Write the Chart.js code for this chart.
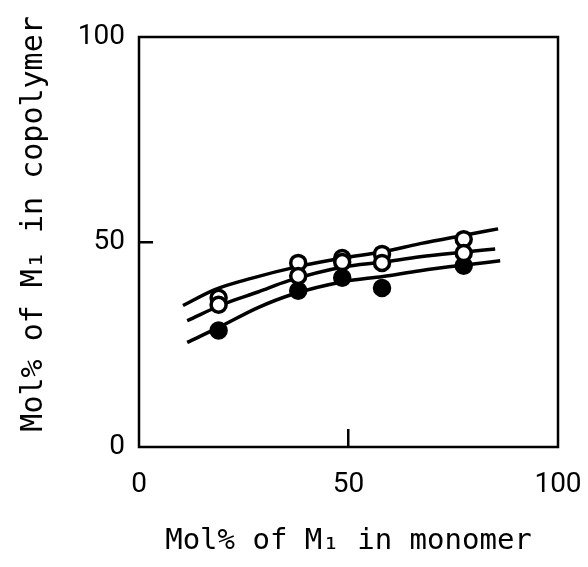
<!DOCTYPE html>
<html>
<head>
<meta charset="utf-8">
<script src="https://cdn.jsdelivr.net/npm/chart.js@4"></script>
<style>
  body { margin: 0; background: #fff; }
  canvas { display: block; }
</style>
</head>
<body>
<canvas id="copolyChart" width="588" height="567"></canvas>
<script>
// measured points (mol% of M1 in monomer)
var monomerX = [19, 38, 48.5, 58, 77.5];
var upperOpen = [36.4, 44.9, 46.1, 47.1, 50.7];
var middleOpen = [34.7, 41.7, 45.1, 44.9, 47.3];
var lowerFilled = [28.4, 38.1, 41.3, 38.8, 44.2];

// fitted curves
var upperCurveX = [10.5, 18.1, 27.0, 37.9, 48.7, 58.2, 67.1, 77.3, 85.7];
var upperCurveY = [34.5, 38.4, 41.2, 44.0, 46.1, 47.6, 49.6, 51.6, 53.2];
var middleCurveX = [11.5, 20.5, 28.4, 35.6, 48.7, 58.2, 67.1, 77.1, 85.0];
var middleCurveY = [30.8, 35.0, 37.8, 40.5, 43.9, 45.1, 46.4, 47.5, 48.3];
var lowerCurveX = [11.5, 18.9, 28.4, 36.5, 48.7, 58.2, 67.1, 77.8, 86.2];
var lowerCurveY = [25.5, 29.1, 34.0, 37.2, 40.3, 41.6, 43.0, 44.4, 45.4];

var xTicks = [0, 50, 100];
var yTicks = [0, 50, 100];

function toPoints(xs, ys) {
  return xs.map(function (x, i) {
    return { x: x, y: ys[i] };
  });
}

function curve(xs, ys) {
  return {
    data: toPoints(xs, ys),
    showLine: true,
    borderColor: "#000",
    borderWidth: 3.5,
    pointRadius: 0,
    cubicInterpolationMode: "monotone",
    order: 10,
  };
}

function markers(ys, fill, order) {
  return {
    data: toPoints(monomerX, ys),
    showLine: false,
    pointRadius: 7.5,
    pointBorderWidth: 3.5,
    pointBorderColor: "#000",
    pointBackgroundColor: fill,
    order: order,
  };
}

// frame around the plot area
var frame = {
  id: "frame",
  afterDatasetsDraw: function (chart) {
    var a = chart.chartArea;
    var ctx = chart.ctx;
    ctx.save();
    ctx.strokeStyle = "#000";
    ctx.lineWidth = 2.5;
    ctx.strokeRect(a.left, a.top, a.right - a.left, a.bottom - a.top);
    ctx.restore();
  },
};

var tickFont = { family: "Roboto, 'DejaVu Sans', sans-serif", size: 28 };

var ctx = document.getElementById("copolyChart").getContext("2d");
new Chart(ctx, {
  type: "scatter",
  data: {
    datasets: [
      curve(upperCurveX, upperCurveY),
      curve(middleCurveX, middleCurveY),
      curve(lowerCurveX, lowerCurveY),
      markers(lowerFilled, "#000", 3),
      markers(upperOpen, "#fff", 2),
      markers(middleOpen, "#fff", 1),
    ],
  },
  options: {
    responsive: false,
    animation: false,
    devicePixelRatio: 1,
    layout: { padding: { left: 0, top: 37, right: 30, bottom: 0 } },
    plugins: {
      legend: { display: false },
      tooltip: { enabled: false },
    },
    scales: {
      x: {
        type: "linear",
        min: 0,
        max: 100,
        afterFit: function (scale) {
          scale.height = 120;
          scale.paddingLeft = 0;
          scale.paddingRight = 0;
        },
        afterBuildTicks: function (scale) {
          scale.ticks = xTicks.map(function (v) { return { value: v }; });
        },
        border: { display: false },
        grid: {
          drawOnChartArea: false,
          tickLength: -18,
          lineWidth: 2.5,
          color: function (c) {
            return c.tick && c.tick.value === 50 ? "#000" : "rgba(0,0,0,0)";
          },
        },
        ticks: { color: "#000", font: tickFont, padding: 39, maxRotation: 0 },
        title: {
          display: true,
          text: "Mol% of M\u2081 in monomer",
          color: "#000",
          font: { family: "'DejaVu Sans Mono', monospace", size: 29 },
          padding: { top: 0, bottom: 8 },
        },
      },
      y: {
        type: "linear",
        min: 0,
        max: 100,
        afterFit: function (scale) {
          scale.width = 139;
          scale.paddingTop = 0;
          scale.paddingBottom = 0;
        },
        afterBuildTicks: function (scale) {
          scale.ticks = yTicks.map(function (v) { return { value: v }; });
        },
        border: { display: false },
        grid: {
          drawOnChartArea: false,
          tickLength: -14,
          lineWidth: 2.5,
          color: function (c) {
            return c.tick && c.tick.value === 50 ? "#000" : "rgba(0,0,0,0)";
          },
        },
        ticks: { color: "#000", font: tickFont, padding: 28 },
        title: {
          display: true,
          text: "  Mol% of M\u2081 in copolymer",
          color: "#000",
          font: { family: "'DejaVu Sans Mono', monospace", size: 30 },
          padding: { top: 16, bottom: 0 },
        },
      },
    },
  },
  plugins: [frame],
});
</script>
</body>
</html>
